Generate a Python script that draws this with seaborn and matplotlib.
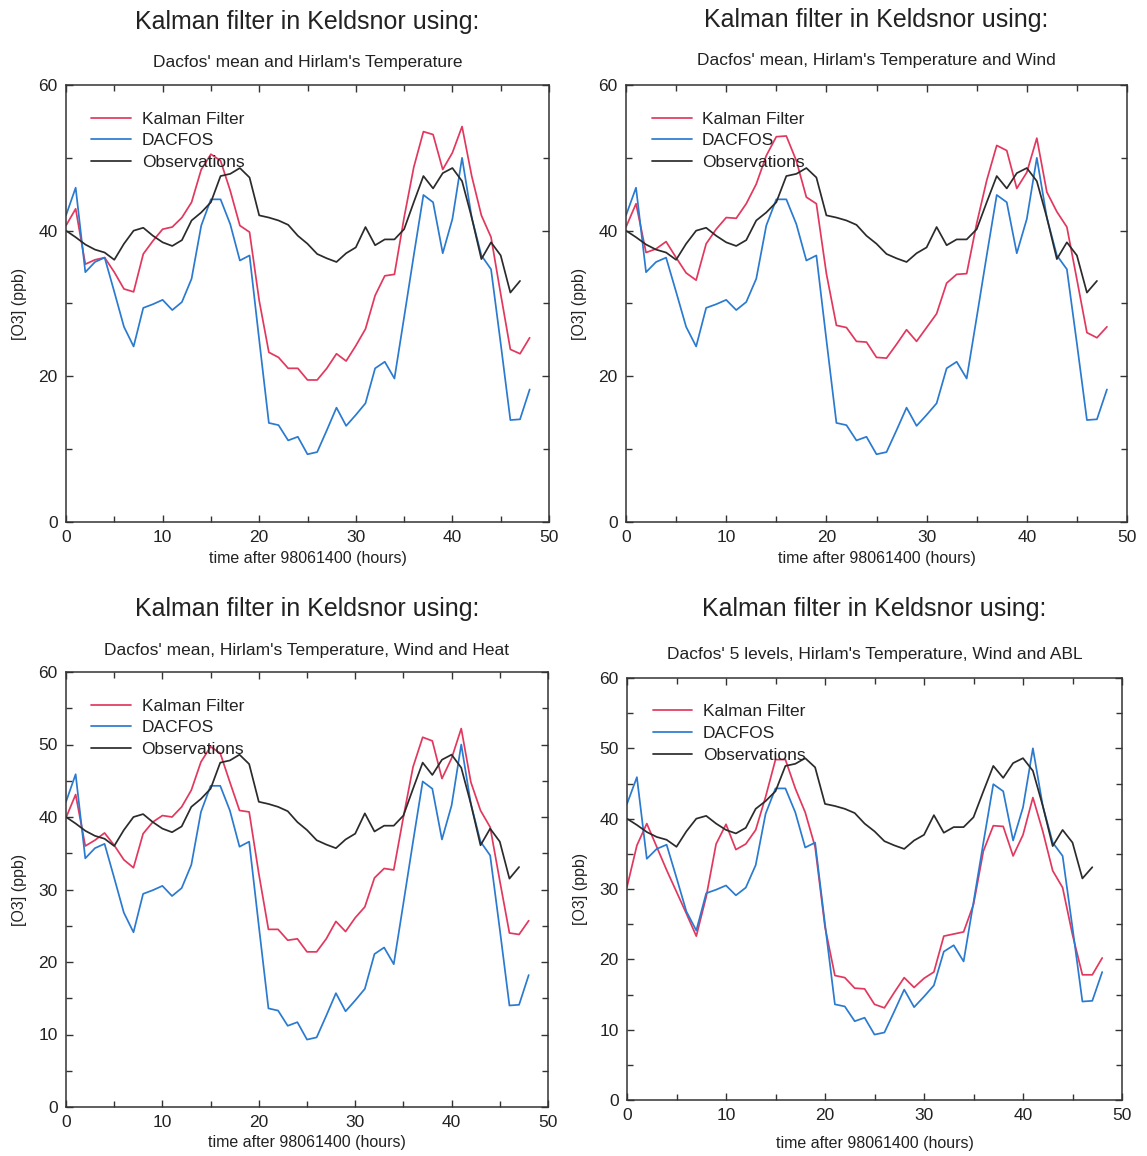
import numpy as np
import pandas as pd
import matplotlib
matplotlib.use("Agg")
import matplotlib.pyplot as plt
import seaborn as sns

# ---------------- data ----------------
hours = list(range(0, 49))
obs_hours = list(range(0, 48))

observations = [40.0, 39.1, 38.1, 37.4, 37.0, 36.0, 38.2, 40.0, 40.4, 39.3,
                38.4, 37.9, 38.7, 41.4, 42.5, 43.9, 47.5, 47.8, 48.6, 47.3,
                42.1, 41.8, 41.4, 40.8, 39.3, 38.2, 36.8, 36.2, 35.7, 36.9,
                37.7, 40.5, 38.0, 38.8, 38.8, 40.2, 43.9, 47.5, 45.8, 47.9,
                48.6, 46.8, 41.8, 36.1, 38.4, 36.6, 31.5, 33.1]

dacfos = [42.1, 45.9, 34.3, 35.7, 36.3, 31.6, 26.8, 24.1, 29.4, 29.9,
          30.5, 29.1, 30.2, 33.4, 40.7, 44.3, 44.3, 40.9, 35.9, 36.6,
          25.0, 13.6, 13.3, 11.2, 11.7, 9.3, 9.6, 12.6, 15.7, 13.2,
          14.7, 16.3, 21.1, 22.0, 19.7, 28.1, 36.6, 44.9, 43.9, 36.9,
          41.6, 50.0, 41.8, 36.6, 34.7, 24.5, 14.0, 14.1, 18.2]

kalman_temp = [40.7, 43.0, 35.4, 36.0, 36.3, 34.3, 32.0, 31.6, 36.8, 38.6,
               40.2, 40.5, 41.8, 43.9, 48.4, 50.5, 49.6, 45.5, 40.7, 39.8,
               30.4, 23.3, 22.6, 21.1, 21.1, 19.5, 19.5, 21.1, 23.1, 22.1,
               24.2, 26.5, 31.1, 33.8, 34.0, 41.8, 48.7, 53.6, 53.2, 48.4,
               50.7, 54.3, 47.5, 42.1, 39.1, 31.3, 23.7, 23.1, 25.3]

kalman_temp_wind = [40.5, 43.7, 37.0, 37.5, 38.5, 36.3, 34.2, 33.2, 38.2, 40.2,
                    41.8, 41.7, 43.7, 46.4, 50.3, 52.9, 53.0, 49.6, 44.6, 43.7,
                    34.1, 27.0, 26.7, 24.8, 24.7, 22.6, 22.5, 24.4, 26.4, 24.8,
                    26.7, 28.6, 32.8, 34.0, 34.1, 41.0, 46.9, 51.7, 51.0, 45.8,
                    48.0, 52.7, 45.3, 42.6, 40.5, 33.3, 26.0, 25.3, 26.8]

kalman_temp_wind_heat = [39.9, 43.1, 36.0, 36.8, 37.8, 36.1, 34.1, 33.0, 37.7, 39.3,
                         40.2, 40.0, 41.4, 43.7, 47.6, 49.7, 48.8, 44.8, 40.9, 40.7,
                         32.2, 24.5, 24.5, 23.0, 23.2, 21.4, 21.4, 23.2, 25.6, 24.2,
                         26.1, 27.6, 31.6, 32.9, 32.7, 40.0, 46.9, 51.0, 50.5, 45.3,
                         48.1, 52.2, 44.8, 40.9, 38.6, 31.2, 24.0, 23.8, 25.7]

kalman_5lev_abl = [30.3, 36.2, 39.3, 36.0, 32.7, 29.6, 26.5, 23.3, 28.9, 36.4,
                   39.2, 35.6, 36.4, 38.4, 43.1, 48.4, 48.4, 44.3, 40.9, 36.0,
                   24.6, 17.7, 17.4, 15.9, 15.8, 13.6, 13.1, 15.3, 17.4, 16.0,
                   17.3, 18.2, 23.3, 23.6, 23.9, 27.8, 35.4, 39.0, 38.9, 34.7,
                   37.7, 43.0, 38.2, 32.6, 30.2, 23.5, 17.8, 17.8, 20.2]

main_title = "Kalman filter in Keldsnor using:"
subtitles = ["Dacfos' mean and Hirlam's Temperature",
             "Dacfos' mean, Hirlam's Temperature and Wind",
             "Dacfos' mean, Hirlam's Temperature, Wind and Heat",
             "Dacfos' 5 levels, Hirlam's Temperature, Wind and ABL"]
kalman_series = [kalman_temp, kalman_temp_wind, kalman_temp_wind_heat, kalman_5lev_abl]
series_names = ["Kalman Filter", "DACFOS", "Observations"]
xlabel = "time after 98061400 (hours)"
ylabel = "[O3] (ppb)"

# ---------------- style ----------------
sns.set_theme(style="ticks")
plt.rcParams['font.family'] = ['Liberation Sans', 'DejaVu Sans']

RED = "#e2385e"
BLUE = "#2a7ad0"
BLACK = "#2b2b2b"

W, H = 1147, 1156
fig = plt.figure(figsize=(W / 100, H / 100), dpi=100)

# axes boxes in pixels: left, right, top, bottom
boxes = [(66, 549, 85, 522),
         (626, 1127, 85, 522),
         (66, 548, 672, 1107),
         (627, 1122, 678, 1100)]
title_y = [22, 20, 609, 609]
sub_y = [62, 60, 650, 654]
xlabel_pad = [4, 4, 3, 9]


def px_axes(l, r, t, b):
    return fig.add_axes([l / W, 1 - b / H, (r - l) / W, (b - t) / H])


for i, (box, kal, sub) in enumerate(zip(boxes, kalman_series, subtitles)):
    l, r, t, b = box
    ax = px_axes(l, r, t, b)
    df_k = pd.DataFrame({"hour": hours, "o3": kal})
    df_d = pd.DataFrame({"hour": hours, "o3": dacfos})
    df_o = pd.DataFrame({"hour": obs_hours, "o3": observations})
    sns.lineplot(data=df_k, x="hour", y="o3", color=RED, lw=1.25, ax=ax, label=series_names[0])
    sns.lineplot(data=df_d, x="hour", y="o3", color=BLUE, lw=1.25, ax=ax, label=series_names[1])
    sns.lineplot(data=df_o, x="hour", y="o3", color=BLACK, lw=1.25, ax=ax, label=series_names[2])

    ax.set_xlim(0, 50)
    ax.set_ylim(0, 60)
    ax.set_xticks(range(0, 51, 10))
    ax.set_xticks(range(0, 51, 5), minor=True)
    if i < 2:
        ax.set_yticks(range(0, 61, 20))
        ax.set_yticks(range(0, 61, 10), minor=True)
    else:
        ax.set_yticks(range(0, 61, 10))
        ax.set_yticks(range(0, 61, 5), minor=True)
    ax.tick_params(which="both", direction="in", top=True, right=True,
                   colors="#333333", labelcolor="#222222", width=1.0)
    ax.tick_params(which="major", length=5, labelsize=12.5, pad=6)
    ax.tick_params(which="minor", length=4)
    for s in ax.spines.values():
        s.set_color("#333333")
        s.set_linewidth(1.1)
    ax.set_xlabel(xlabel, fontsize=11.5, color="#222222", labelpad=xlabel_pad[i])
    ax.set_ylabel(ylabel, fontsize=11.5, color="#222222", labelpad=8)

    leg = ax.legend(loc="upper left", frameon=False, fontsize=12.5,
                    handlelength=2.3, handletextpad=0.6, labelspacing=0.38,
                    borderaxespad=0.5, bbox_to_anchor=(0.02, 0.975))
    for txt in leg.get_texts():
        txt.set_color("#222222")

    cx = (l + r) / 2
    fig.text(cx / W, 1 - title_y[i] / H, main_title, ha="center", va="center",
             fontsize=18, color="#222222")
    fig.text(cx / W, 1 - sub_y[i] / H, sub, ha="center", va="center",
             fontsize=12.5, color="#222222")

fig.savefig("out.png", dpi=100, facecolor="white")
